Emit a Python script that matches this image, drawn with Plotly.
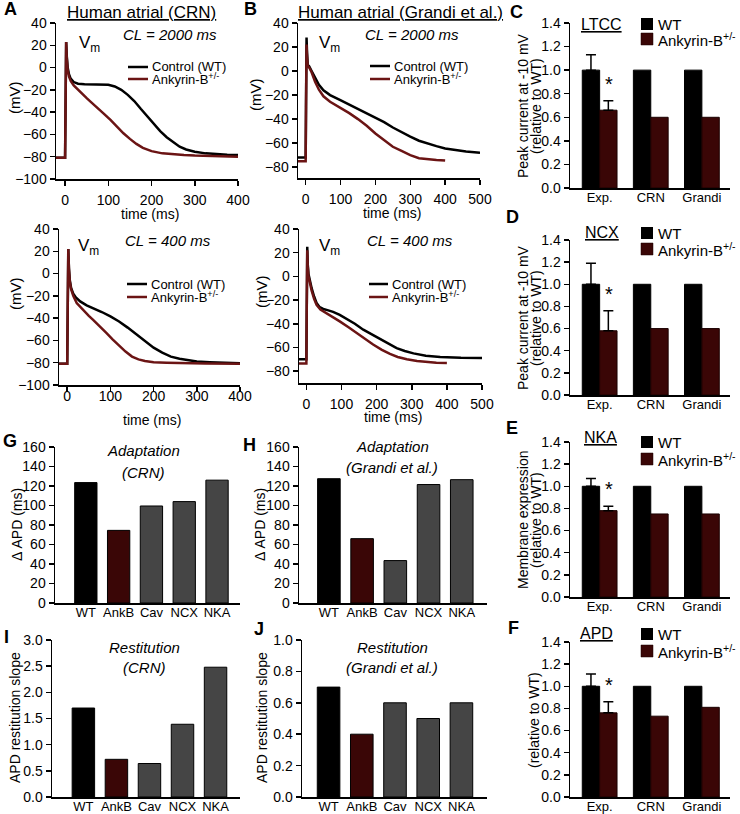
import plotly.graph_objects as go

W, H = 740, 814
FONT = "Liberation Sans, Arial, sans-serif"
MAROON_LINE = "#6b1414"
MAROON_BAR = "#3a0606"
GRAY_BAR = "#454545"

# ---------------- Action potential traces (time ms, Vm mV) ----------------
# A top: CRN, CL = 2000 ms
crn2000_wt_t = [-21, 0, 1, 2.5, 4, 6, 9, 13, 20, 30, 45, 60, 80, 100, 115, 130, 145, 160, 175, 190, 205, 220, 235, 250, 265, 280, 300, 325, 350, 375, 400]
crn2000_wt_v = [-81, -81, -40, 23, 10, 0, -6, -10, -13, -14.5, -15, -15, -15, -15.5, -17, -20, -24.5, -30, -37, -44, -51, -57, -62.5, -67, -71, -73.5, -75.5, -77, -77.8, -78.2, -78.5]
crn2000_ank_t = [-21, 0, 1, 2.5, 4, 6, 9, 13, 20, 30, 40, 50, 60, 75, 90, 105, 120, 135, 150, 165, 180, 200, 225, 250, 275, 300, 350, 400]
crn2000_ank_v = [-81, -81, -40, 23, 8, -2, -8, -12, -16, -20, -24, -27.5, -31, -36, -41.5, -47, -53, -59, -64, -68.5, -72, -75, -77, -78, -78.5, -79, -79.5, -80]
# A bottom: CRN, CL = 400 ms
crn400_wt_t = [-19, 0, 1, 2.5, 4, 6, 9, 14, 20, 30, 45, 60, 80, 100, 120, 140, 160, 180, 200, 220, 240, 260, 280, 300, 330, 360, 400]
crn400_wt_v = [-81, -81, -40, 22, 5, -6, -13, -18, -21.5, -25, -28.5, -31, -34.5, -38.5, -43, -48.5, -54.5, -60.5, -66.5, -71, -74.5, -76.5, -78, -79, -79.5, -80, -80.5]
crn400_ank_t = [-19, 0, 1, 2.5, 4, 6, 9, 14, 22, 30, 40, 50, 60, 75, 90, 105, 120, 135, 150, 165, 180, 200, 230, 270, 320, 400]
crn400_ank_v = [-81, -81, -40, 22, 4, -7, -14, -20, -26.5, -30, -34, -38, -41.5, -47, -53, -59, -64.5, -70, -74.5, -77, -78.5, -79.5, -80, -80.5, -80.8, -81]
# B top: Grandi, CL = 2000 ms
gr2000_wt_t = [-22, 0, 1, 2.5, 4, 6, 10, 17, 27, 38, 51, 70, 98, 125, 150, 175, 200, 225, 250, 275, 300, 325, 350, 375, 400, 430, 460, 500]
gr2000_wt_v = [-72, -72, -30, 28, 15, 5, 4, 0, -6, -11.5, -16, -20, -24, -28, -31.5, -35, -39, -42.5, -47, -51, -54.5, -58, -60.5, -62.5, -64.5, -66, -67, -68]
gr2000_ank_t = [-22, 0, 1, 2.5, 4, 6, 10, 17, 27, 38, 51, 70, 98, 125, 150, 175, 200, 225, 250, 275, 300, 325, 350, 375, 400]
gr2000_ank_v = [-75, -75, -30, 22, 12, 4, 3, -1, -9, -15.5, -21, -25.5, -30, -35, -40, -45.5, -52, -57.5, -63, -66.5, -70, -72.5, -73.5, -74, -74.5]
# B bottom: Grandi, CL = 400 ms
gr400_wt_t = [-21, 0, 1, 2.5, 4, 6, 10, 15, 22, 29, 38, 48, 60, 76, 95, 114, 138, 162, 186, 210, 234, 257, 280, 305, 340, 381, 440, 500]
gr400_wt_v = [-70, -70, -30, 25, 10, 2, -4, -10, -17, -22.5, -26, -27.5, -28.5, -30, -32.5, -35.5, -40, -45, -49, -53, -57, -60.5, -63, -65, -67, -68, -68.7, -69]
gr400_ank_t = [-21, 0, 1, 2.5, 4, 6, 10, 15, 22, 29, 40, 57, 75, 95, 120, 143, 165, 190, 215, 238, 260, 286, 315, 343, 370, 400]
gr400_ank_v = [-73.5, -73.5, -30, 22, 8, 0, -6, -12, -19, -24, -28, -31, -34, -38, -43, -48, -52.5, -57.5, -62, -65.5, -68, -70, -71.5, -72.5, -73, -73.2]

# ---------------- Bar data C-F ----------------
groups = ["Exp.", "CRN", "Grandi"]
ltcc_wt = [1.0, 1.0, 1.0]
ltcc_wt_err = [0.13]
ltcc_ank = [0.66, 0.60, 0.60]
ltcc_ank_err = [0.08]
ncx_wt = [1.0, 1.0, 1.0]
ncx_wt_err = [0.19]
ncx_ank = [0.58, 0.60, 0.60]
ncx_ank_err = [0.18]
nka_wt = [1.0, 1.0, 1.0]
nka_wt_err = [0.07]
nka_ank = [0.78, 0.75, 0.75]
nka_ank_err = [0.04]
apd_wt = [1.0, 1.0, 1.0]
apd_wt_err = [0.11]
apd_ank = [0.76, 0.73, 0.81]
apd_ank_err = [0.10]

# ---------------- Bar data G-J ----------------
conds = ["WT", "AnkB", "Cav", "NCX", "NKA"]
adapt_crn = [123.5, 74.5, 99.5, 104, 126]
adapt_grandi = [127.5, 66, 43.5, 121.5, 126.5]
restit_crn = [1.70, 0.72, 0.64, 1.39, 2.48]
restit_grandi = [0.70, 0.40, 0.60, 0.50, 0.60]
cond_colors = ["#000000", MAROON_BAR, GRAY_BAR, GRAY_BAR, GRAY_BAR]


def xd(a, b):
    return [a / W, b / W]


def yd(top, bottom):
    return [1 - bottom / H, 1 - top / H]


def px(x):
    return x / W


def py(y):
    return 1 - y / H


common = dict(showline=True, linecolor="black", linewidth=1.5, ticks="outside",
              ticklen=5, tickwidth=1.5, tickcolor="black", showgrid=False,
              zeroline=False, automargin=False,
              tickfont=dict(size=14, color="black", family=FONT))

fig = go.Figure()

# ----- AP panels -----
ap_panels = [
    (1, crn2000_wt_t, crn2000_wt_v, crn2000_ank_t, crn2000_ank_v),
    (2, crn400_wt_t, crn400_wt_v, crn400_ank_t, crn400_ank_v),
    (3, gr2000_wt_t, gr2000_wt_v, gr2000_ank_t, gr2000_ank_v),
    (4, gr400_wt_t, gr400_wt_v, gr400_ank_t, gr400_ank_v),
]
for i, wt_t, wt_v, ak_t, ak_v in ap_panels:
    xa = "x" if i == 1 else f"x{i}"
    ya = "y" if i == 1 else f"y{i}"
    fig.add_trace(go.Scatter(x=wt_t, y=wt_v, mode="lines", xaxis=xa, yaxis=ya,
                             line=dict(color="black", width=2.5), showlegend=False))
    fig.add_trace(go.Scatter(x=ak_t, y=ak_v, mode="lines", xaxis=xa, yaxis=ya,
                             line=dict(color=MAROON_LINE, width=2.5), showlegend=False))

lay = {}
lay["xaxis"] = dict(common, domain=xd(56, 238), range=[-21, 400], tickvals=[0, 100, 200, 300, 400], anchor="y", ticklabelstandoff=3)
lay["yaxis"] = dict(common, domain=yd(23, 179), range=[-100, 40], tickvals=list(range(-100, 41, 20)), anchor="x")
lay["xaxis2"] = dict(common, domain=xd(59, 240), range=[-19, 400], tickvals=[0, 100, 200, 300, 400], anchor="y2", ticklabelstandoff=-7)
lay["yaxis2"] = dict(common, domain=yd(229, 385), range=[-100, 40], tickvals=list(range(-100, 41, 20)), anchor="x2")
lay["xaxis3"] = dict(common, domain=xd(298, 480), range=[-22, 500], tickvals=[0, 100, 200, 300, 400, 500], anchor="y3", ticklabelstandoff=3)
lay["yaxis3"] = dict(common, domain=yd(23, 178), range=[-89, 40], tickvals=list(range(-80, 41, 20)), anchor="x3")
lay["xaxis4"] = dict(common, domain=xd(299, 482), range=[-21, 500], tickvals=[0, 100, 200, 300, 400, 500], anchor="y4", ticklabelstandoff=3)
lay["yaxis4"] = dict(common, domain=yd(229, 383), range=[-90, 40], tickvals=list(range(-80, 41, 20)), anchor="x4")

# ----- C-F grouped bars -----
cf = [
    (5, ltcc_wt, ltcc_wt_err, ltcc_ank, ltcc_ank_err, 23, 188),
    (6, ncx_wt, ncx_wt_err, ncx_ank, ncx_ank_err, 240, 395),
    (7, nka_wt, nka_wt_err, nka_ank, nka_ank_err, 442, 597),
    (8, apd_wt, apd_wt_err, apd_ank, apd_ank_err, 642, 797),
]
annotations = []
for i, wt, wte, ak, ake, top, bot in cf:
    xa, ya = f"x{i}", f"y{i}"
    fig.add_trace(go.Bar(x=groups, y=wt, xaxis=xa, yaxis=ya, showlegend=False,
                         marker=dict(color="black", line=dict(color="black", width=1)),
                         error_y=dict(type="data", array=wte, arrayminus=[0], symmetric=False,
                                      color="black", thickness=1.5, width=5)))
    fig.add_trace(go.Bar(x=groups, y=ak, xaxis=xa, yaxis=ya, showlegend=False,
                         marker=dict(color=MAROON_BAR, line=dict(color="#1a0000", width=1)),
                         error_y=dict(type="data", array=ake, arrayminus=[0], symmetric=False,
                                      color="black", thickness=1.5, width=5)))
    lay[f"xaxis{i}"] = dict(common, domain=xd(570, 730), type="category", range=[-0.58, 2.55],
                            ticks="", anchor=ya, ticklabelstandoff=-3,
                            tickfont=dict(size=13, color="black", family=FONT))
    lay[f"yaxis{i}"] = dict(common, domain=yd(top, bot), range=[0, 1.4], tickvals=[0, 0.2, 0.4, 0.6, 0.8, 1.0, 1.2, 1.4],
                            tickformat=".1f", anchor=xa, tickfont=dict(size=14, color="black", family=FONT))
    annotations.append(dict(text="*", x=groups[0], y=ak[0] + ake[0], xref=xa, yref=ya, xshift=9, yshift=4,
                            showarrow=False, yanchor="bottom", xanchor="center",
                            font=dict(size=20, color="black", family=FONT)))

# ----- G-J bars -----
gj = [
    (9, adapt_crn, xd(55, 240), yd(447, 603), [-0.94, 4.7], [0, 160], list(range(0, 161, 20)), None),
    (10, adapt_grandi, xd(299, 487), yd(447, 603), [-0.9, 4.76], [0, 160], list(range(0, 161, 20)), None),
    (11, restit_crn, xd(52, 240), yd(640, 797), [-0.95, 4.74], [0, 3.0], [0, 0.5, 1.0, 1.5, 2.0, 2.5, 3.0], ".1f"),
    (12, restit_grandi, xd(302, 487), yd(640, 797), [-0.8, 4.77], [0, 1.0], [0, 0.2, 0.4, 0.6, 0.8, 1.0], ".1f"),
]
for i, vals, dx, dy, xr, yr, tv, tf in gj:
    xa, ya = f"x{i}", f"y{i}"
    fig.add_trace(go.Bar(x=conds, y=vals, xaxis=xa, yaxis=ya, showlegend=False,
                         marker=dict(color=cond_colors, line=dict(color="black", width=1))))
    lay[f"xaxis{i}"] = dict(common, domain=dx, type="category", range=xr, ticks="", anchor=ya,
                            ticklabelstandoff=-3, tickfont=dict(size=13, color="black", family=FONT))
    yax = dict(common, domain=dy, range=yr, tickvals=tv, anchor=xa)
    if tf:
        yax["tickformat"] = tf
    lay[f"yaxis{i}"] = yax


def ann(text, x, y, size=14, xanchor="center", yanchor="middle", **kw):
    d = dict(text=text, x=px(x), y=py(y), xref="paper", yref="paper", showarrow=False,
             xanchor=xanchor, yanchor=yanchor, font=dict(size=size, color="black", family=FONT))
    font_extra = kw.pop("font_extra", None)
    if font_extra:
        d["font"].update(font_extra)
    d.update(kw)
    annotations.append(d)


# panel letters
for letter, x, y in [("A", 10, 9), ("B", 250, 9), ("C", 516, 12), ("D", 512, 217), ("E", 512, 428),
                     ("F", 513, 628), ("G", 10, 441), ("H", 249, 445), ("I", 6, 637), ("J", 259, 629)]:
    ann(f"<b>{letter}</b>", x, y, size=18)

# panel headings
ann("Human atrial (CRN)", 141, 12, size=17, font_extra=dict(lineposition="under"))
ann("Human atrial (Grandi et al.)", 400, 12, size=17, font_extra=dict(lineposition="under"))

# CL labels and Vm
ann("<i>CL = 2000 ms</i>", 170, 35, size=15)
ann("<i>CL = 400 ms</i>", 168, 240, size=15)
ann("<i>CL = 2000 ms</i>", 412, 35, size=15)
ann("<i>CL = 400 ms</i>", 410, 240, size=15)
for x, y in [(77, 44), (76, 247), (317, 44), (317, 247)]:
    ann("V<sub>m</sub>", x, y, size=17, xanchor="left")

# curve legends
shapes = []
for x0, x1, yw, yk in [(128, 148, 67, 79), (127, 147, 284, 297), (370, 390, 66, 79), (369, 388, 284, 297)]:
    shapes.append(dict(type="line", xref="paper", yref="paper", x0=px(x0), x1=px(x1), y0=py(yw), y1=py(yw),
                       line=dict(color="black", width=2.5)))
    shapes.append(dict(type="line", xref="paper", yref="paper", x0=px(x0), x1=px(x1), y0=py(yk), y1=py(yk),
                       line=dict(color=MAROON_LINE, width=2.5)))
    ann("Control (WT)", x1 + 2, yw, size=13, xanchor="left")
    ann("Ankyrin-B<sup>+/-</sup>", x1 + 2, yk, size=13, xanchor="left")

# axis titles for AP panels
ann("(mV)", 15, 98, size=15, textangle=-90)
ann("(mV)", 15, 294, size=15, textangle=-90)
ann("(mV)", 256, 95, size=15, textangle=-90)
ann("(mV)", 261, 292, size=15, textangle=-90)
ann("time (ms)", 150, 214, size=14)
ann("time (ms)", 152, 420, size=14)
ann("time (ms)", 392, 213, size=14)
ann("time (ms)", 393, 417, size=14)

# bar panel headings and legends
for name, cx, cy, yw, yk in [("LTCC", 601, 25, 24, 39), ("NCX", 602, 232, 233, 249),
                             ("NKA", 600, 437, 442, 459), ("APD", 596, 633, 634, 651)]:
    ann(name, cx, cy, size=16, font_extra=dict(lineposition="under"))
    shapes.append(dict(type="rect", xref="paper", yref="paper", x0=px(641), x1=px(653),
                       y0=py(yw + 6), y1=py(yw - 6), fillcolor="black", line=dict(color="black", width=0)))
    shapes.append(dict(type="rect", xref="paper", yref="paper", x0=px(641), x1=px(653),
                       y0=py(yk + 6), y1=py(yk - 6), fillcolor=MAROON_BAR, line=dict(color="#1a0000", width=0.5)))
    ann("WT", 656, yw, size=15, xanchor="left")
    ann("Ankyrin-B<sup>+/-</sup>", 656, yk, size=15, xanchor="left")

# bar y titles
ann("Peak current at -10 mV", 523, 106, size=14, textangle=-90)
ann("(relative to WT)", 536, 106, size=14, textangle=-90)
ann("Peak current at -10 mV", 523, 318, size=14, textangle=-90)
ann("(relative to WT)", 536, 318, size=14, textangle=-90)
ann("Membrane expression", 523, 520, size=14, textangle=-90)
ann("(relative to WT)", 536, 520, size=14, textangle=-90)
ann("(relative to WT)", 534, 720, size=14, textangle=-90)

ann("Δ APD (ms)", 17, 525, size=14, textangle=-90)
ann("Δ APD (ms)", 260, 525, size=14, textangle=-90)
ann("APD restitution slope", 15, 718, size=14, textangle=-90)
ann("APD restitution slope", 262, 718, size=14, textangle=-90)

# G-J titles
ann("<i>Adaptation</i>", 143, 450, size=15)
ann("<i>(CRN)</i>", 143, 472, size=15)
ann("<i>Adaptation</i>", 392, 447, size=15)
ann("<i>(Grandi et al.)</i>", 392, 467, size=15)
ann("<i>Restitution</i>", 144, 647, size=15)
ann("<i>(CRN)</i>", 144, 667, size=15)
ann("<i>Restitution</i>", 392, 647, size=15)
ann("<i>(Grandi et al.)</i>", 392, 667, size=15)

fig.update_layout(width=W, height=H, margin=dict(l=0, r=0, t=0, b=0, pad=0, autoexpand=False),
                  paper_bgcolor="white", plot_bgcolor="white", barmode="group",
                  bargap=0.32, bargroupgap=0, showlegend=False, hovermode=False,
                  font=dict(family=FONT, color="black"),
                  annotations=annotations, shapes=shapes, **lay)

fig.write_html("out.html", config={"displayModeBar": False, "staticPlot": True},
               post_script="document.body.style.margin='0';document.body.style.padding='0';"
                           "document.documentElement.style.overflow='hidden';")
